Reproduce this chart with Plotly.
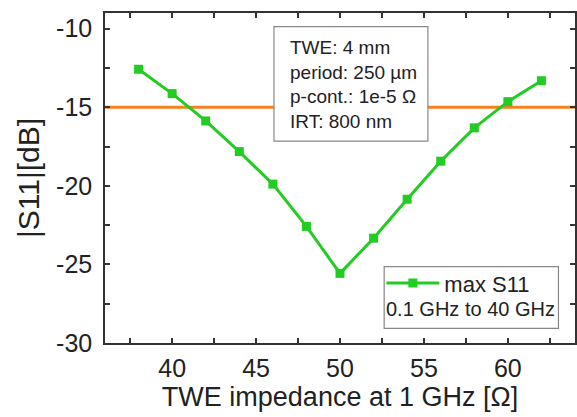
import plotly.graph_objects as go

# Data
impedance = [38, 40, 42, 44, 46, 48, 50, 52, 54, 56, 58, 60, 62]
max_s11 = [-12.58, -14.13, -15.87, -17.82, -19.89, -22.58, -25.57,
           -23.33, -20.85, -18.43, -16.31, -14.64, -13.31]
threshold = -15
x_range = [36, 64]
y_range = [-30, -9]
x_ticks = [40, 45, 50, 55, 60]
y_ticks = [-30, -25, -20, -15, -10]
info_lines = ["TWE: 4 mm", "period: 250 µm", "p-cont.: 1e-5 Ω", "IRT: 800 nm"]

GREEN = "#22cc22"
ORANGE = "#f5821f"
FRAME = "#333333"
TEXT = "#222222"
FONT = "Liberation Sans, Arial, sans-serif"

fig = go.Figure()
fig.add_trace(go.Scatter(
    x=impedance, y=max_s11, mode="lines+markers", name="max S11",
    line=dict(color=GREEN, width=3),
    marker=dict(symbol="square", size=9, color=GREEN),
))

fig.add_hline(y=threshold, line=dict(color=ORANGE, width=3), layer="below")

axis_common = dict(
    showgrid=False, zeroline=False, showline=True, linecolor=FRAME, linewidth=1.5,
    mirror="allticks", ticks="inside", ticklen=5, tickwidth=1.5, tickcolor=FRAME,
    tickfont=dict(family=FONT, size=25, color=TEXT),
)

fig.update_xaxes(
    range=x_range, tickvals=x_ticks, ticktext=[str(v) for v in x_ticks], ticklabelstandoff=2,
    minor=dict(dtick=2.5, tick0=0, ticks="inside", ticklen=5, tickwidth=1.5, tickcolor=FRAME),
    title=dict(text="TWE impedance at 1 GHz [Ω]", font=dict(family=FONT, size=27, color=TEXT), standoff=4),
    **axis_common,
)
fig.update_yaxes(
    range=y_range, tickvals=y_ticks, ticktext=[str(v) for v in y_ticks], ticklabelstandoff=6,
    minor=dict(dtick=2.5, tick0=0, ticks="inside", ticklen=5, tickwidth=1.5, tickcolor=FRAME),
    title=dict(text="|S11|[dB]", font=dict(family=FONT, size=30, color=TEXT), standoff=8),
    **axis_common,
)

# Info box
fig.add_shape(type="rect", xref="paper", yref="paper", x0=0.3595, x1=0.687, y0=0.612, y1=0.9585,
              line=dict(color="#888888", width=1.2), fillcolor="white", layer="above")
fig.add_annotation(xref="paper", yref="paper", x=0.389, y=0.782, xanchor="left", yanchor="middle",
                   text="<br>".join(info_lines), showarrow=False, align="left",
                   font=dict(family=FONT, size=19, color=TEXT))

# Legend box
fig.add_shape(type="rect", xref="paper", yref="paper", x0=0.594, x1=0.9648, y0=0.0445, y1=0.2312,
              line=dict(color="#888888", width=1.2), fillcolor="white", layer="above")
fig.add_annotation(xref="paper", yref="paper", x=0.7786, y=0.102, xanchor="center", yanchor="middle",
                   text="0.1 GHz to 40 GHz", showarrow=False,
                   font=dict(family=FONT, size=20, color=TEXT))

fig.update_layout(
    width=577, height=417, autosize=False,
    margin=dict(l=105, r=0, t=13, b=74),
    plot_bgcolor="white", paper_bgcolor="white",
    showlegend=True,
    legend=dict(x=0.588, y=0.181, xanchor="left", yanchor="middle",
                bgcolor="rgba(0,0,0,0)", borderwidth=0, itemwidth=53,
                font=dict(family=FONT, size=22, color=TEXT)),
)

fig.write_html("out.html", config={"displayModeBar": False},
               post_script="document.body.style.margin='0px';document.body.style.overflow='hidden';")
